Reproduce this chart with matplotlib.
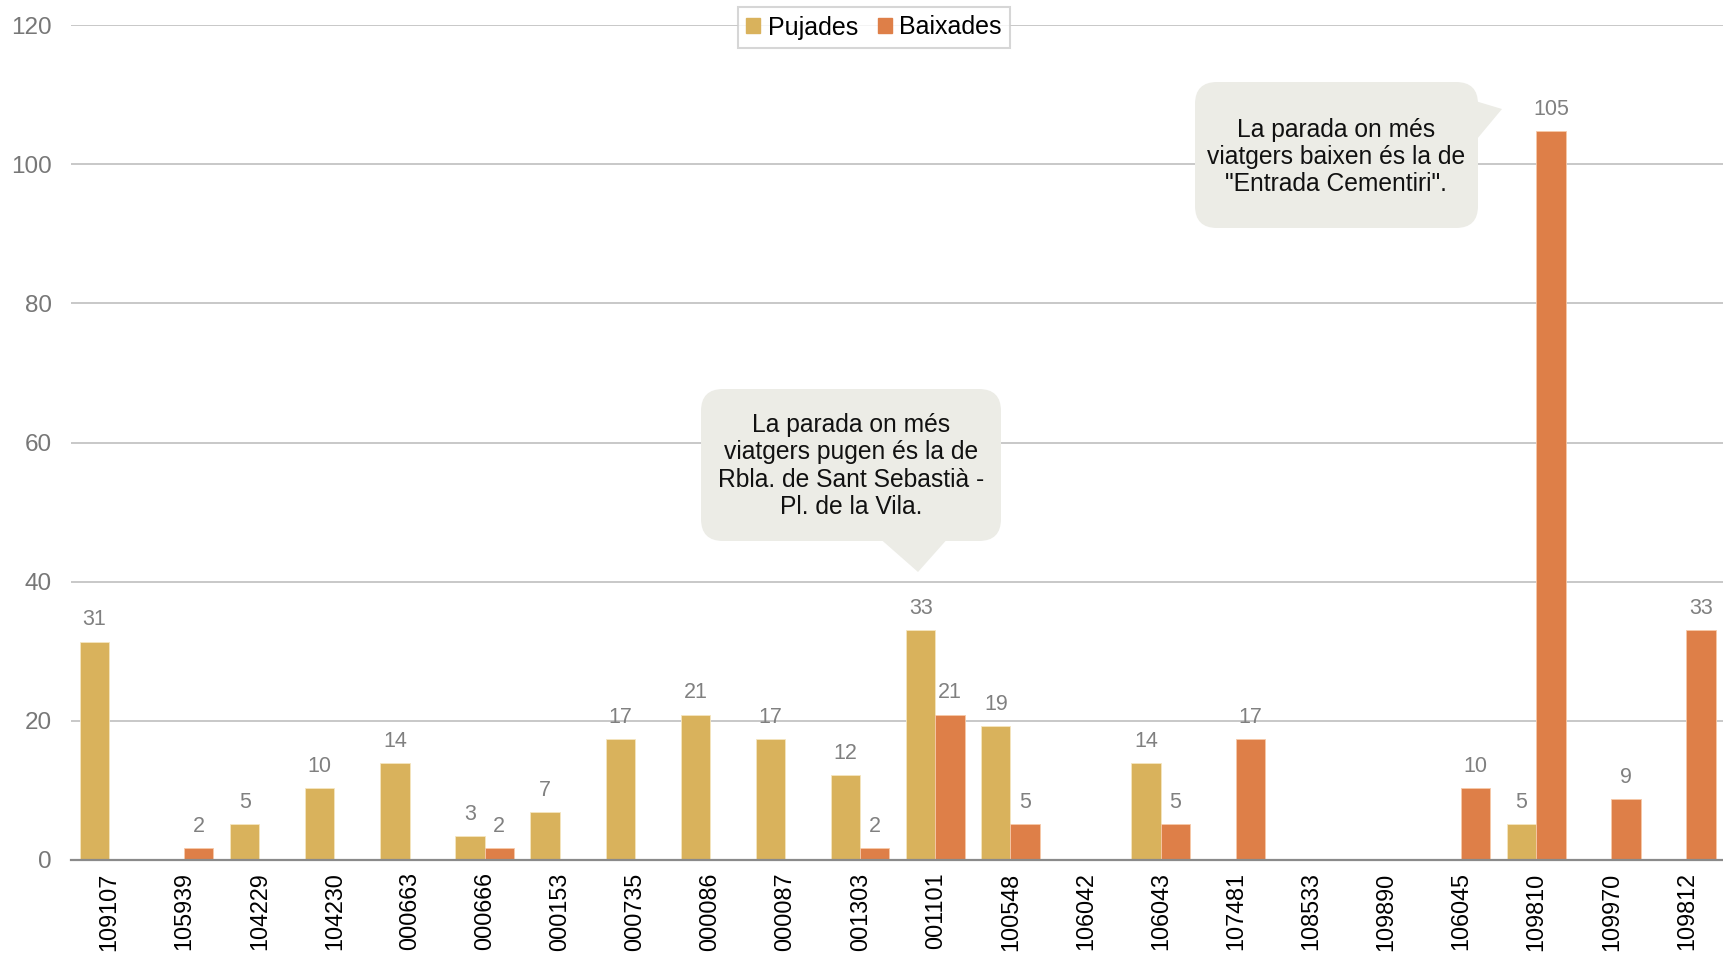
import numpy as np
import matplotlib
matplotlib.use("Agg")
import matplotlib.pyplot as plt
from matplotlib.patches import FancyBboxPatch, Polygon, Patch

# Fonts: Arial-like first, DejaVu as fallback
plt.rcParams['font.family'] = ['Liberation Sans', 'DejaVu Sans']

# Parades (codi) i valors
parades = ['109107', '105939', '104229', '104230', '000663', '000666', '000153',
           '000735', '000086', '000087', '001303', '001101', '100548', '106042',
           '106043', '107481', '108533', '109890', '106045', '109810', '109970',
           '109812']
pujades = [31.4, 0, 5.2, 10.4, 13.9, 3.4, 6.9, 17.4, 20.9, 17.4, 12.2, 33.1,
           19.2, 0, 13.9, 0, 0, 0, 0, 5.2, 0, 0]
baixades = [0, 1.7, 0, 0, 0, 1.7, 0, 0, 0, 0, 1.7, 20.9, 5.2, 0, 5.2, 17.4,
            0, 0, 10.4, 104.8, 8.7, 33.1]
series_noms = ['Pujades', 'Baixades']
y_ticks = [0, 20, 40, 60, 80, 100, 120]

nota_pujades = "La parada on més\nviatgers pugen és la de\nRbla. de Sant Sebastià -\nPl. de la Vila."
nota_baixades = "La parada on més\nviatgers baixen és la de\n\"Entrada Cementiri\"."

col_puj = '#D9B25C'
col_baix = '#DE7F48'
W, H = 1724, 957

fig = plt.figure(figsize=(W / 100, H / 100), dpi=100)
ax = fig.add_axes([71.5 / W, 1 - 860 / H, 1 - 71.5 / W, (860 - 25) / H])

x = np.arange(len(parades))
w = 0.39
b1 = ax.bar(x - w / 2, pujades, w, color=col_puj, edgecolor='#F5E6C0', linewidth=0.6, zorder=3)
b2 = ax.bar(x + w / 2, baixades, w, color=col_baix, edgecolor='#F7C9A8', linewidth=0.6, zorder=3)

# etiquetes de valor (nomes si no es zero)
for bars, vals in [(b1, pujades), (b2, baixades)]:
    labs = [f"{v:.0f}" if v > 0 else "" for v in vals]
    ax.bar_label(bars, labels=labs, padding=8, fontsize=15.5, color='#808080', zorder=4)

ax.set_xlim(-0.5, len(parades) - 0.5)
ax.set_ylim(0, 120)
ax.set_yticks(y_ticks)
ax.set_xticks(x)
ax.set_xticklabels(parades, rotation=90, fontsize=16.8, color='black')
ax.tick_params(axis='y', length=0, pad=14, labelsize=17.5, labelcolor='#777777')
ax.tick_params(axis='x', length=0, pad=9)
ax.yaxis.grid(True, color='#C8C8C8', linewidth=1.4, zorder=0)
ax.set_axisbelow(True)
for s in ['top', 'right', 'left']:
    ax.spines[s].set_visible(False)
ax.spines['bottom'].set_color('#8A8A8A')
ax.spines['bottom'].set_linewidth(1.6)
ax.spines['bottom'].set_zorder(5)

# llegenda
handles = [Patch(color=col_puj), Patch(color=col_baix)]
leg = fig.legend(handles, series_noms, loc='center', bbox_to_anchor=(874 / W, 1 - 27.5 / H),
                 ncol=2, fontsize=18, frameon=True, fancybox=False, handlelength=0.55,
                 handleheight=0.55, handletextpad=0.3, columnspacing=0.8,
                 borderpad=0.35, edgecolor='#CCCCCC')
leg.get_frame().set_linewidth(1.5)


def px(xp, yp):
    # pixels (des de dalt) -> polzades de la figura
    return (xp / 100, (H - yp) / 100)


def bafarada(l, r, t, b, tri, text, cx, cy):
    fill = '#ECECE6'
    x0, y0 = px(l, b)
    box = FancyBboxPatch((x0, y0), (r - l) / 100, (b - t) / 100,
                         boxstyle="round,pad=0,rounding_size=0.22",
                         transform=fig.dpi_scale_trans, facecolor=fill,
                         edgecolor='none', zorder=6, clip_on=False)
    fig.add_artist(box)
    pol = Polygon([px(*p) for p in tri], closed=True, transform=fig.dpi_scale_trans,
                  facecolor=fill, edgecolor='none', zorder=6, clip_on=False)
    fig.add_artist(pol)
    tx, ty = px(cx, cy)
    fig.text(tx / (W / 100), ty / (H / 100), text, ha='center', va='center',
             fontsize=17.7, linespacing=1.18, color='#111111', zorder=7)


bafarada(701, 1001, 389, 541, [(877, 536), (950, 536), (918, 572)],
         nota_pujades, 851, 466)
bafarada(1195, 1478, 82, 228, [(1472, 100), (1502, 109), (1472, 145)],
         nota_baixades, 1336, 157)

fig.savefig("out.png", dpi=100)
